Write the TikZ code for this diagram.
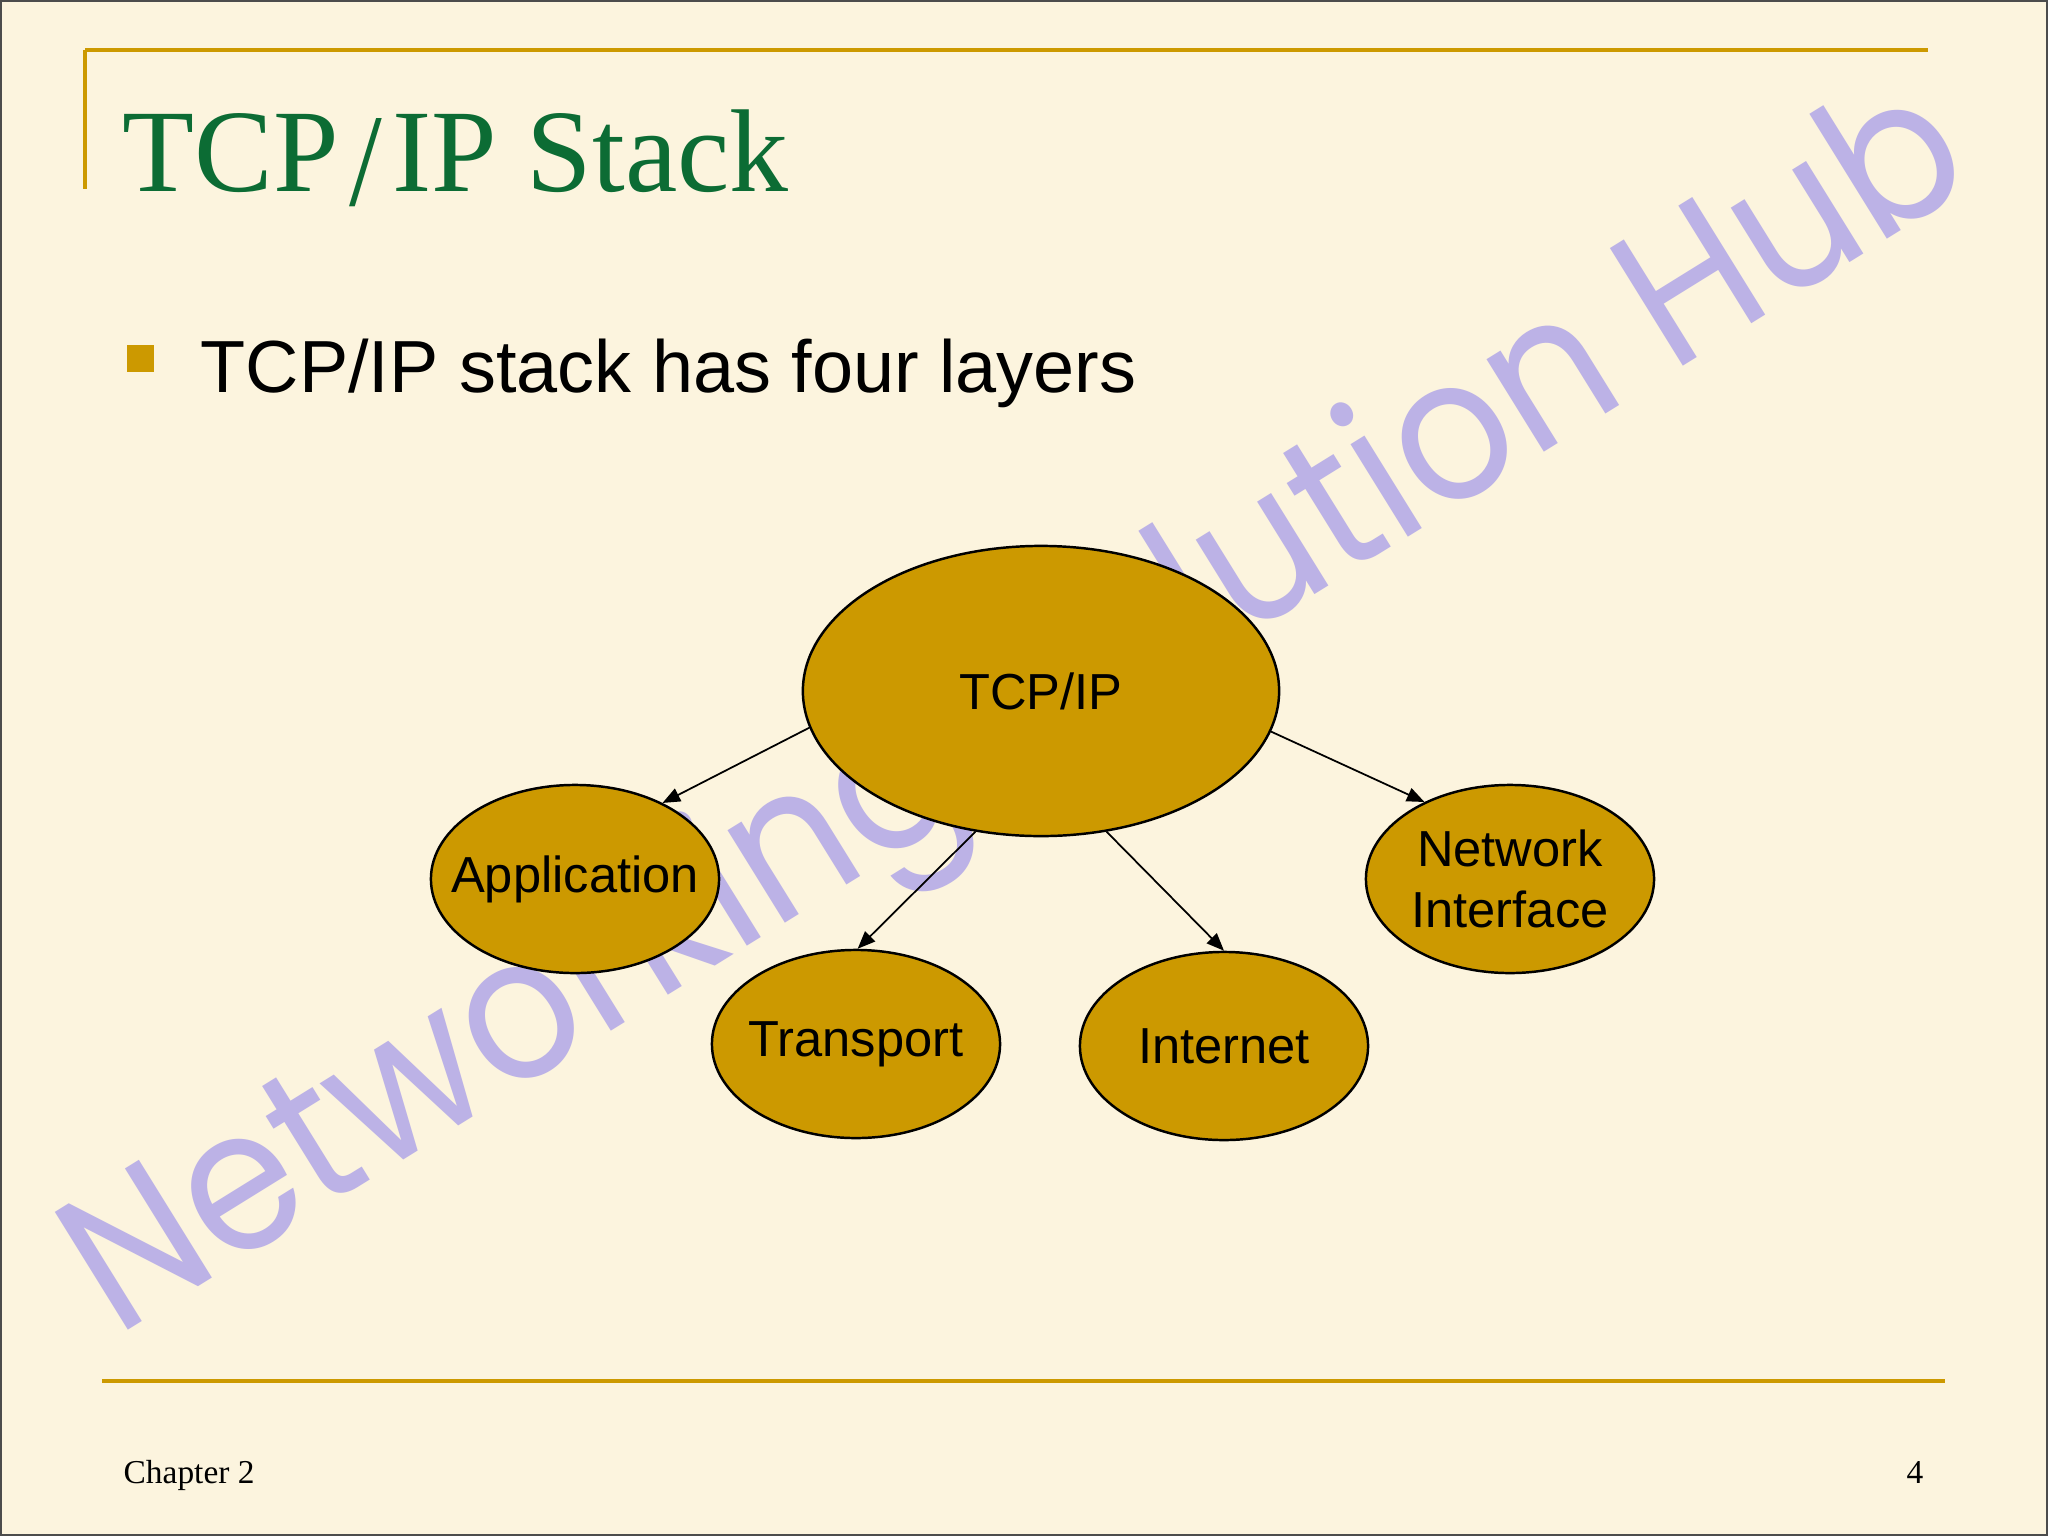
\documentclass[tikz,border=0pt]{standalone}
\usepackage{fontspec}
\usepackage{graphicx}
\setmainfont{Liberation Serif}
\newfontfamily\arialf{Liberation Sans}
\newfontfamily\wmfont{Poppins}
\usetikzlibrary{arrows.meta,shapes.geometric}
\definecolor{bgcream}{RGB}{252,244,222}
\definecolor{layergold}{RGB}{204,153,0}
\definecolor{titlegreen}{RGB}{12,108,52}
\definecolor{wmpurple}{RGB}{188,178,230}
\definecolor{rulegold}{RGB}{204,153,0}
\tikzset{
  layer/.style={ellipse, draw=black, line width=0.7pt, fill=layergold,
    inner xsep=-0.3cm, inner ysep=0pt,
    font=\arialf\fontsize{14.4}{17.4}\selectfont, align=center,
    minimum width=2.88cm, minimum height=1.88cm},
  link/.style={-{Triangle[length=5pt,width=4pt]}, line width=0.5pt, draw=black},
  rule/.style={draw=rulegold, line width=1.1pt},
}
\begin{document}
\begin{tikzpicture}[x=0.01cm,y=-0.01cm]
\useasboundingbox (0,0) rectangle (2048,1536);
\fill[bgcream] (0,0) rectangle (2048,1536);
% watermark
\node[wmpurple, anchor=base west, inner sep=0pt, rotate=31.8] (wm) at (116,1338)
  {\resizebox{21.9cm}{!}{\scalebox{1}[1.1]{\wmfont Networking Solution Hub}}};
% frame rules
\draw[rule] (85,50) -- (1928,50);
\draw[rule] (85,50) -- (85,189);
\draw[rule] (102,1381) -- (1945,1381);
% title
\node[anchor=base west, inner sep=0pt, text=titlegreen, font=\fontsize{33.5}{40}\selectfont] (title) at (122,191) {TCP\kern3pt\raisebox{-0.12em}{\scalebox{1}[1.12]{/}}\kern3pt IP Stack};
% bullet
\fill[rulegold] (127,345) rectangle (154,372);
\node[anchor=base west, inner sep=0pt, font=\arialf\fontsize{21}{25}\selectfont] (bullet) at (200,392) {TCP/IP stack has four layers};
% footer
\node[anchor=base west, inner sep=0pt, font=\fontsize{9.5}{11}\selectfont] (chap) at (123,1483) {Chapter 2};
\node[anchor=base east, inner sep=0pt, font=\fontsize{9.5}{11}\selectfont] (pnum) at (1924,1483) {4};
% diagram
\node[layer, minimum width=4.76cm, minimum height=2.9cm] (tcp) at (1041,691) {TCP/IP};
\node[layer] (app) at (575,879) {\raisebox{-0.15em}{Application}};
\node[layer] (trans) at (856,1044) {\raisebox{-0.15em}{Transport}};
\node[layer] (inet) at (1224,1046) {Internet};
\node[layer] (net) at (1510,879) {Network\\Interface};
\draw[link] (tcp.189.4) -- (app.41.6);
\draw[link] (tcp.245) -- (trans.89);
\draw[link] (tcp.295) -- (inet.90);
\draw[link] (tcp.350.7) -- (net.138.8);
% slide border
\draw[line width=1pt, black!70] (0,0) rectangle (2048,1536);
\end{tikzpicture}
\end{document}
